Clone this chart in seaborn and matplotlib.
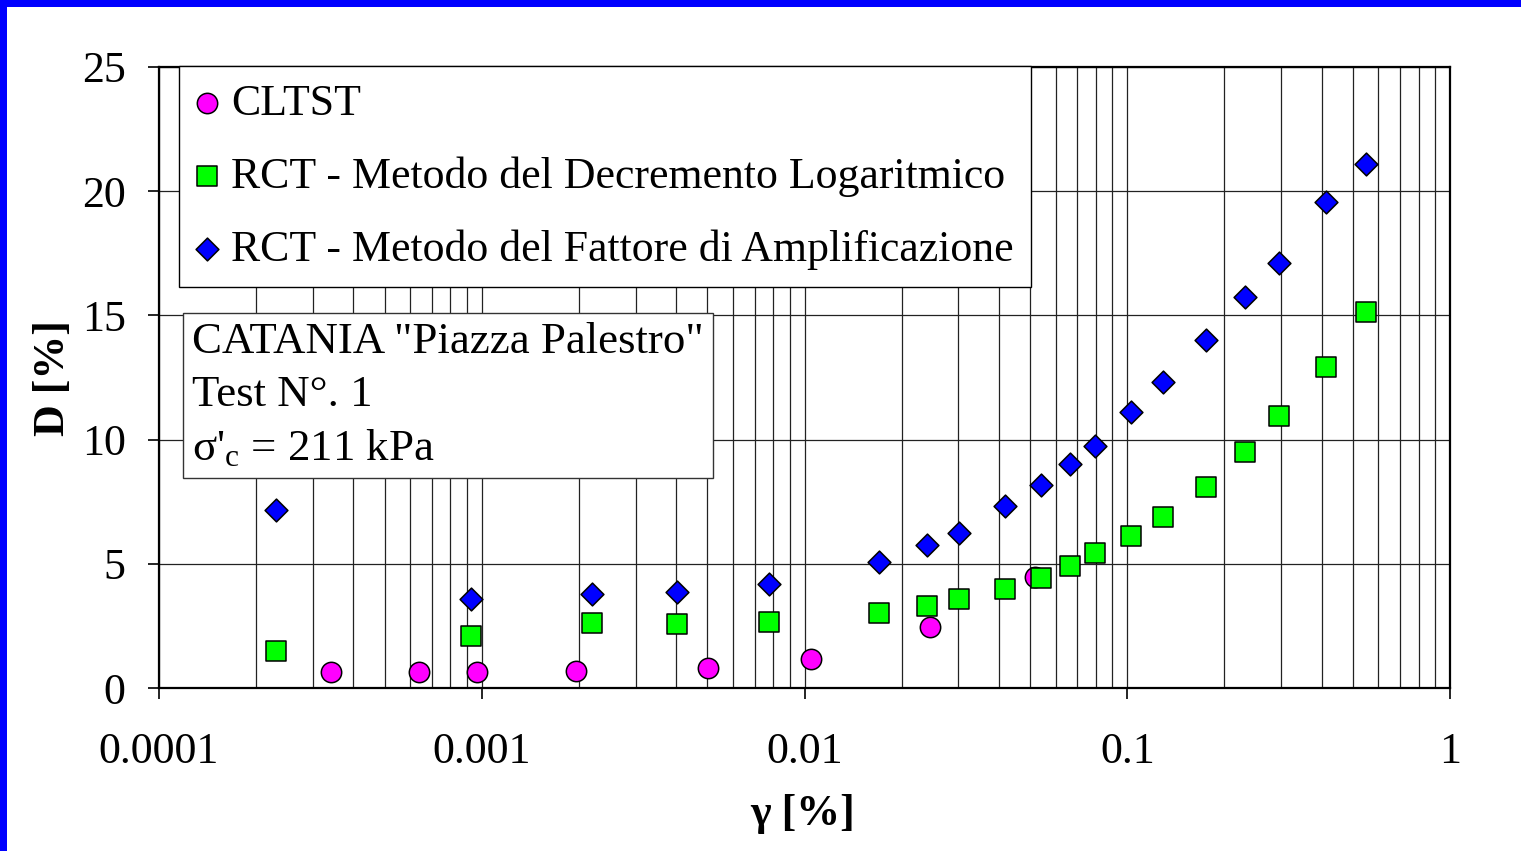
import numpy as np
import pandas as pd
import matplotlib
matplotlib.use("Agg")
import matplotlib.pyplot as plt
import seaborn as sns
from matplotlib.patches import Rectangle
from matplotlib.ticker import LogLocator, FixedLocator, NullFormatter

# ---- data ----
cltst_gamma = [3.41e-4, 6.39e-4, 9.66e-4, 1.96e-3, 5.02e-3, 0.01047, 0.0245, 0.0518]
cltst_D = [0.65, 0.65, 0.65, 0.67, 0.80, 1.18, 2.45, 4.45]

rct_gamma = [2.30e-4, 9.26e-4, 2.20e-3, 4.03e-3, 7.76e-3, 0.01703, 0.02396, 0.0301,
             0.0418, 0.0541, 0.0665, 0.0794, 0.1027, 0.129, 0.1754, 0.2317, 0.295,
             0.413, 0.550]
rct_dec_D = [1.50, 2.10, 2.61, 2.58, 2.66, 3.02, 3.31, 3.60, 3.98, 4.44, 4.93, 5.45,
             6.13, 6.90, 8.11, 9.50, 10.95, 12.92, 15.14]
rct_amp_D = [7.15, 3.57, 3.80, 3.87, 4.19, 5.08, 5.74, 6.24, 7.31, 8.16, 9.00, 9.74,
             11.11, 12.32, 14.01, 15.74, 17.11, 19.57, 21.10]

labels = ["CLTST",
          "RCT - Metodo del Decremento Logaritmico",
          "RCT - Metodo del Fattore di Amplificazione"]
x_ticks = [1e-4, 1e-3, 1e-2, 1e-1, 1]
x_ticklabels = ["0.0001", "0.001", "0.01", "0.1", "1"]
y_ticks = [0, 5, 10, 15, 20, 25]
info_text = "CATANIA \"Piazza Palestro\"\nTest N°. 1\nσ'$_{\\mathrm{c}}$ = 211 kPa"

sns.set_theme(style="white")
plt.rcParams['font.family'] = ['Liberation Serif', 'DejaVu Serif']
plt.rcParams['mathtext.fontset'] = 'custom'
plt.rcParams['mathtext.rm'] = 'Liberation Serif'
plt.rcParams['mathtext.it'] = 'Liberation Serif:italic'
plt.rcParams['mathtext.bf'] = 'Liberation Serif:bold'

FS = 31.6
FS_BOX = 32.3

fig = plt.figure(figsize=(15.21, 8.51), dpi=100)
fig.patch.set_facecolor("white")
ax = fig.add_axes([159/1521, 1-688/851, (1450-159)/1521, (688-67)/851])
ax.set_facecolor("white")

df_c = pd.DataFrame({"g": cltst_gamma, "D": cltst_D})
df_d = pd.DataFrame({"g": rct_gamma, "D": rct_dec_D})
df_a = pd.DataFrame({"g": rct_gamma, "D": rct_amp_D})

ax.set_xscale("log")
sns.scatterplot(data=df_c, x="g", y="D", ax=ax, marker="o", s=215, color="#FF00FF",
                edgecolor="black", linewidth=1.1, label=labels[0], zorder=5)
sns.scatterplot(data=df_d, x="g", y="D", ax=ax, marker="s", s=200, color="#00FF00",
                edgecolor="black", linewidth=1.1, label=labels[1], zorder=5)
sns.scatterplot(data=df_a, x="g", y="D", ax=ax, marker="D", s=135, color="#0000FF",
                edgecolor="black", linewidth=1.1, label=labels[2], zorder=5)

ax.set_xlim(1e-4, 1)
ax.set_ylim(0, 25)
ax.xaxis.set_major_locator(FixedLocator(x_ticks))
ax.set_xticklabels(x_ticklabels)
ax.xaxis.set_minor_locator(LogLocator(base=10, subs=np.arange(2, 10)))
ax.xaxis.set_minor_formatter(NullFormatter())
ax.set_yticks(y_ticks)

ax.grid(True, which="major", axis="both", color="#222222", linewidth=0.9)
ax.grid(True, which="minor", axis="x", color="#222222", linewidth=0.9)
ax.set_axisbelow(True)

for sp in ax.spines.values():
    sp.set_color("black")
    sp.set_linewidth(1.6)

ax.tick_params(axis="both", which="major", direction="out", length=8, width=1.2,
               color="black", labelsize=FS, labelcolor="black")
ax.tick_params(axis="x", which="major", pad=24)
ax.tick_params(axis="y", which="major", pad=16, left=True)
ax.tick_params(axis="x", which="minor", length=0, bottom=True)
ax.tick_params(axis="x", which="major", bottom=True)

ax.set_xlabel("γ [%]", fontsize=FS, fontweight="bold", color="black")
ax.set_ylabel("D [%]", fontsize=FS, fontweight="bold", color="black")
ax.xaxis.set_label_coords((803-159)/1291, (688-794)/621)
ax.yaxis.set_label_coords((73-159)/1291, (688-378)/621)

leg = ax.legend(loc="upper left", bbox_to_anchor=((179-159)/1291, (688-66)/621),
                borderaxespad=0, fontsize=FS, frameon=True, fancybox=False,
                framealpha=1, edgecolor="black", handlelength=0.48,
                handletextpad=0.31, borderpad=0.4, labelspacing=0.74)
leg.get_frame().set_linewidth(1.0)
leg.set_zorder(10)
for t in leg.get_texts():
    t.set_color("black")

ax.text((192-159)/1291, (688-322)/621, info_text, transform=ax.transAxes,
        fontsize=FS_BOX, color="black", va="top", ha="left", linespacing=1.42, zorder=10,
        bbox=dict(boxstyle="square,pad=0.2", facecolor="white", edgecolor="#333333",
                  linewidth=1.0))

# blue border (left and top)
fig.patches.append(Rectangle((0, 0), 7/1521, 1, transform=fig.transFigure,
                             facecolor="#0000FF", edgecolor="none", zorder=20))
fig.patches.append(Rectangle((0, 1-7/851), 1, 7/851, transform=fig.transFigure,
                             facecolor="#0000FF", edgecolor="none", zorder=20))

fig.savefig("out.png", dpi=100, facecolor="white")
